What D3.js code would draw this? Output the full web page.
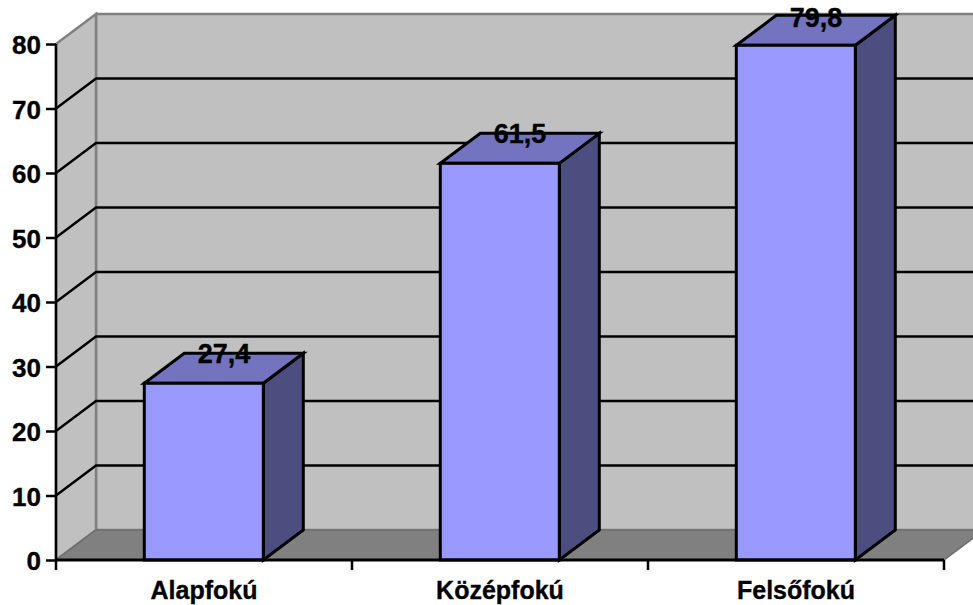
<!DOCTYPE html>
<html><head><meta charset="utf-8">
<script src="https://cdn.jsdelivr.net/npm/d3@7"></script>
<style>html,body{margin:0;padding:0;background:#fff;overflow:hidden}svg{display:block}text{font-family:"Liberation Sans",Arial,sans-serif;font-weight:bold;fill:#000;stroke:#000;stroke-width:.35px}</style>
</head><body><svg id="c" width="973" height="605"></svg>
<script>
const categories = ["Alapfokú", "Középfokú", "Felsőfokú"];
const values = [27.4, 61.5, 79.8];
const valueLabels = ["27,4", "61,5", "79,8"];
const yTicks = [0, 10, 20, 30, 40, 50, 60, 70, 80];

const W = 973, H = 605;
const left = 56, right = 944, top0 = 44, bottom = 560;
const dx = 40, dy = -30;
const svg = d3.select("#c");
const x = d3.scaleBand().domain(categories).range([left, right]).paddingInner(0).paddingOuter(0);
const y = d3.scaleLinear().domain([0, 80]).range([bottom, top0]);
const barW = 119;
const poly = pts => pts.map(p => p.join(",")).join(" ");

const wallG = svg.append("g");
// back wall
wallG.append("polygon").attr("points", poly([[left+dx,top0+dy],[right+dx,top0+dy],[right+dx,bottom+dy],[left+dx,bottom+dy]]))
  .attr("fill", "#c0c0c0").attr("stroke", "#808080").attr("stroke-width", 2.5);
// side wall
wallG.append("polygon").attr("points", poly([[left,top0],[left+dx,top0+dy],[left+dx,bottom+dy],[left,bottom]]))
  .attr("fill", "#c0c0c0").attr("stroke", "#808080").attr("stroke-width", 2.5);
// floor
wallG.append("polygon").attr("points", poly([[left,bottom],[left+dx,bottom+dy],[right+dx,bottom+dy],[right,bottom]]))
  .attr("fill", "#808080").attr("stroke", "#6e6e6e").attr("stroke-width", 1.5);

// gridlines
svg.append("g").selectAll("path").data(yTicks.filter(t => t > 0 && t < 80)).join("path")
  .attr("d", t => `M${left},${y(t)}L${left+dx},${y(t)+dy}L${right+dx},${y(t)+dy}`)
  .attr("fill", "none").attr("stroke", "#000").attr("stroke-width", 2.4);

// bars
const bars = svg.append("g").selectAll("g").data(categories).join("g");
const bx = c => x(c) + (x.bandwidth() - barW) / 2 - 0.2;
const val = i => y(values[i]);
const st = s => s.attr("stroke", "#000").attr("stroke-width", 3).attr("stroke-linejoin", "miter");
st(bars.append("polygon").attr("fill", "#4d4d80").attr("points", (c,i) => {
  const a = bx(c) + barW, t = val(i);
  return poly([[a,t],[a+dx,t+dy],[a+dx,bottom+dy],[a,bottom]]);
}));
st(bars.append("polygon").attr("fill", "#7373bf").attr("points", (c,i) => {
  const a = bx(c), t = val(i);
  return poly([[a,t],[a+barW,t],[a+barW+dx,t+dy],[a+dx,t+dy]]);
}));
st(bars.append("rect").attr("fill", "#9999ff").attr("x", c => bx(c)).attr("y", (c,i) => val(i))
  .attr("width", barW).attr("height", (c,i) => bottom - val(i)));

// axes
const yAxis = d3.axisLeft(y).tickValues(yTicks).tickSize(10).tickPadding(5);
const gy = svg.append("g").attr("transform", `translate(${left},0)`).call(yAxis);
gy.selectAll("line").attr("stroke", "#000").attr("stroke-width", 2.5);
gy.select(".domain").attr("stroke", "#000").attr("stroke-width", 2.5).attr("d", `M0,${top0}V${bottom}`);
gy.selectAll("text").style("font-size", "26px").attr("fill", "#000").attr("dy", "0.37em");

const xAxis = d3.axisBottom(x).tickSize(0).tickPadding(21);
const gx = svg.append("g").attr("transform", `translate(0,${bottom})`).call(xAxis);
gx.select(".domain").attr("stroke", "#000").attr("stroke-width", 3).attr("d", `M${left},0H${right}`);
gx.selectAll("text").style("font-size", "25px").attr("fill", "#000");
svg.append("g").selectAll("line").data([...categories.map(c => x(c)), right]).join("line")
  .attr("x1", d => d).attr("x2", d => d).attr("y1", bottom).attr("y2", bottom + 10)
  .attr("stroke", "#000").attr("stroke-width", 2.5);

// value labels
svg.append("g").selectAll("text").data(categories).join("text")
  .attr("x", c => x(c) + x.bandwidth()/2 + dx/2)
  .attr("y", (c,i) => Math.max(val(i) + dy + 10, 27))
  .attr("text-anchor", "middle").style("font-size", "27px")
  .text((c,i) => valueLabels[i]);
</script></body></html>
